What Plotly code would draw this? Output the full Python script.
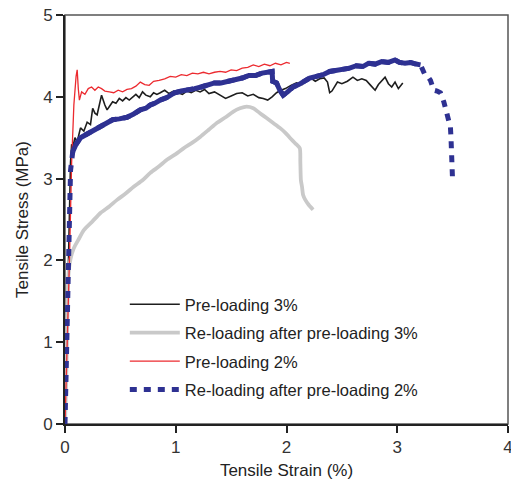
import plotly.graph_objects as go

# Pre-loading 3%
pre3_x = [0, 0.02, 0.04, 0.05, 0.06, 0.07, 0.09, 0.11, 0.14, 0.17,
          0.2, 0.23, 0.25, 0.27, 0.29, 0.31, 0.33, 0.36, 0.38, 0.41,
          0.43, 0.46, 0.49, 0.52, 0.55, 0.58, 0.61, 0.64, 0.67, 0.7,
          0.73, 0.77, 0.8, 0.83, 0.86, 0.9, 0.94, 0.98, 1.02, 1.06,
          1.1, 1.14, 1.18, 1.22, 1.26, 1.3, 1.35, 1.4, 1.45, 1.5,
          1.55, 1.6, 1.65, 1.7, 1.75, 1.79, 1.83, 1.87, 1.91, 1.95,
          1.99, 2.04, 2.09, 2.14, 2.18, 2.22, 2.26, 2.3, 2.34, 2.37,
          2.39, 2.41, 2.43, 2.46, 2.5, 2.55, 2.6, 2.64, 2.68, 2.72,
          2.76, 2.8, 2.83, 2.86, 2.89, 2.92, 2.95, 2.98, 3.01, 3.05]
pre3_y = [0, 1.3, 2.6, 3.2, 3.42, 3.38, 3.5, 3.45, 3.62, 3.58,
          3.69, 3.66, 3.86, 3.8, 3.78, 3.92, 4.02, 3.9, 3.84, 3.9,
          3.94, 3.92, 3.98, 3.95, 3.99, 3.96, 4.0, 4.03, 3.99, 4.06,
          4.02, 4.0, 4.05, 4.03, 4.05, 4.08, 4.04, 4.07, 4.05, 4.03,
          4.07, 4.05, 4.08, 4.06, 4.09, 4.04, 4.06, 4.02, 3.98, 4.01,
          4.04, 4.05, 4.01, 4.03, 3.99, 3.98, 3.96, 4.0, 4.05, 4.08,
          4.1, 4.14, 4.17, 4.15, 4.2, 4.23, 4.19, 4.22, 4.23, 4.18,
          4.05, 4.07, 4.12, 4.18, 4.16, 4.19, 4.24, 4.2, 4.22, 4.2,
          4.14, 4.08, 4.15, 4.2, 4.24, 4.16, 4.12, 4.18, 4.1, 4.17]

# Re-loading after pre-loading 3%
re3_x = [0, 0.01, 0.02, 0.03, 0.05, 0.08, 0.12, 0.17, 0.25, 0.32,
         0.4, 0.47, 0.55, 0.62, 0.7, 0.77, 0.85, 0.92, 1.0, 1.07,
         1.15, 1.22, 1.3, 1.37, 1.45, 1.52, 1.58, 1.64, 1.7, 1.76,
         1.82, 1.88, 1.94, 1.99, 2.03, 2.08, 2.12, 2.125, 2.13, 2.14,
         2.15, 2.17, 2.2, 2.24]
re3_y = [0, 0.5, 1.2, 1.8, 2.02, 2.15, 2.25, 2.37, 2.48, 2.58,
         2.66, 2.74, 2.82, 2.9, 2.98, 3.07, 3.15, 3.23, 3.3, 3.37,
         3.44, 3.51, 3.6, 3.68, 3.75, 3.82, 3.86, 3.88, 3.86, 3.8,
         3.74, 3.68, 3.62, 3.56, 3.5, 3.43, 3.37, 3.2, 2.98, 2.9,
         2.8, 2.74, 2.68, 2.62]

# Pre-loading 2%
pre2_x = [0, 0.02, 0.04, 0.06, 0.08, 0.1, 0.11, 0.12, 0.13, 0.15,
          0.18, 0.21, 0.24, 0.27, 0.3, 0.33, 0.36, 0.4, 0.44, 0.48,
          0.52, 0.56, 0.6, 0.64, 0.68, 0.72, 0.76, 0.8, 0.85, 0.9,
          0.95, 1.0, 1.05, 1.1, 1.15, 1.2, 1.25, 1.3, 1.35, 1.4,
          1.45, 1.5, 1.55, 1.6, 1.65, 1.7, 1.75, 1.8, 1.85, 1.9,
          1.95, 2.0, 2.03]
pre2_y = [0, 0.9, 2.0, 3.2, 3.9, 4.25, 4.33, 4.1, 3.96, 4.06,
          4.03, 4.1, 4.12, 4.08, 4.12, 4.1, 4.07, 4.06, 4.05, 4.08,
          4.06, 4.09, 4.1, 4.13, 4.18, 4.15, 4.14, 4.19, 4.2, 4.22,
          4.25, 4.24, 4.27, 4.26, 4.29, 4.28, 4.3, 4.28, 4.3, 4.31,
          4.3, 4.33, 4.32, 4.35, 4.36, 4.39, 4.37, 4.4, 4.38, 4.41,
          4.39, 4.42, 4.41]

# Re-loading after pre-loading 2%
re2_x = [0, 0.01, 0.02, 0.03, 0.04, 0.05, 0.07, 0.1, 0.14, 0.18,
         0.23, 0.28, 0.32, 0.38, 0.43, 0.49, 0.56, 0.62, 0.68, 0.73,
         0.77, 0.81, 0.86, 0.92, 0.99, 1.05, 1.11, 1.17, 1.23, 1.29,
         1.35, 1.41, 1.47, 1.54, 1.6, 1.66, 1.72, 1.78, 1.83, 1.87,
         1.875, 1.91, 1.94, 1.97, 2.01, 2.06, 2.11, 2.16, 2.21, 2.27,
         2.33, 2.39, 2.45, 2.51, 2.57, 2.63, 2.69, 2.74, 2.8, 2.86,
         2.92, 2.98, 3.02, 3.07, 3.12, 3.17, 3.21, 3.25, 3.28, 3.3,
         3.33, 3.36, 3.39, 3.42, 3.44, 3.46, 3.48, 3.485, 3.49, 3.495,
         3.5]
re2_y = [0, 0.6, 1.3, 2.0, 2.7, 3.1, 3.33, 3.42, 3.5, 3.53,
         3.57, 3.6, 3.63, 3.67, 3.72, 3.73, 3.75, 3.79, 3.84, 3.86,
         3.9, 3.92, 3.96, 3.99, 4.05, 4.07, 4.08, 4.1, 4.12, 4.15,
         4.17, 4.17, 4.19, 4.2, 4.23, 4.26, 4.26, 4.29, 4.3, 4.31,
         4.19, 4.17, 4.08, 4.02, 4.06, 4.12, 4.15, 4.19, 4.23, 4.25,
         4.27, 4.31, 4.32, 4.34, 4.35, 4.38, 4.37, 4.41, 4.4, 4.43,
         4.42, 4.45, 4.42, 4.41, 4.42, 4.4, 4.39, 4.27, 4.24, 4.2,
         4.08, 4.07, 4.05, 3.94, 3.84, 3.76, 3.63, 3.51, 3.31, 3.13,
         2.96]

names = ["Pre-loading 3%", "Re-loading after pre-loading 3%",
         "Pre-loading 2%", "Re-loading after pre-loading 2%"]

x_ticks = [0, 1, 2, 3, 4]
y_ticks = [0, 1, 2, 3, 4, 5]

BLACK = "#1e1e1e"
GRAY = "#c9c9c9"
RED = "#ec2a2f"
BLUE = "#2e3192"
FONT = "Liberation Sans, Arial, sans-serif"

fig = go.Figure()
fig.add_trace(go.Scatter(x=pre3_x, y=pre3_y, mode="lines", name=names[0],
                         line=dict(color=BLACK, width=1.6), legendgroup="a"))
fig.add_trace(go.Scatter(x=re3_x, y=re3_y, mode="lines", name=names[1],
                         line=dict(color=GRAY, width=3.8, shape="spline", smoothing=0.6),
                         legendgroup="b"))
fig.add_trace(go.Scatter(x=pre2_x, y=pre2_y, mode="lines", name=names[2],
                         line=dict(color=RED, width=1.3), legendgroup="c"))
# solid-looking plateau of the dense dotted record (no legend entry)
fig.add_trace(go.Scatter(x=re2_x[6:67], y=re2_y[6:67], mode="lines", showlegend=False,
                         line=dict(color=BLUE, width=5), hoverinfo="skip"))
fig.add_trace(go.Scatter(x=re2_x, y=re2_y, mode="lines", name=names[3],
                         line=dict(color=BLUE, width=5, dash="7px,7px"), legendgroup="d"))

fig.add_shape(type="rect", xref="paper", yref="paper", x0=0, y0=0, x1=1, y1=1,
              line=dict(color="#555555", width=1.5), layer="below")

fig.update_layout(
    width=511, height=490,
    margin=dict(l=65, r=3, t=15, b=66, autoexpand=False),
    paper_bgcolor="white", plot_bgcolor="white",
    font=dict(family=FONT, size=16, color="#222222"),
    showlegend=True,
    legend=dict(x=0.135, y=0.335, xanchor="left", yanchor="top",
                bgcolor="rgba(0,0,0,0)", font=dict(size=16.5, color="#222222"),
                traceorder="grouped", tracegroupgap=4, itemwidth=50),
    xaxis=dict(range=[0, 4], tickvals=x_ticks, showgrid=False, zeroline=False,
               automargin=False, ticklabeloverflow="allow",
               showline=True, linecolor="#222222", linewidth=2,
               ticks="outside", ticklen=7, tickwidth=1.5, tickcolor="#222222",
               tickfont=dict(size=17, color="#333333"),
               title=dict(text="Tensile Strain (%)", font=dict(size=17, color="#222222"),
                          standoff=8)),
    yaxis=dict(range=[0, 5], tickvals=y_ticks, showgrid=False, zeroline=False,
               automargin=False, ticklabeloverflow="allow",
               showline=True, linecolor="#222222", linewidth=2,
               ticks="outside", ticklen=7, tickwidth=1.5, tickcolor="#222222",
               tickfont=dict(size=17, color="#333333"),
               title=dict(text="Tensile Stress (MPa)", font=dict(size=17, color="#222222"),
                          standoff=10)),
)

fig.write_html("out.html", config={"displayModeBar": False},
               post_script="document.body.style.margin='0';")
